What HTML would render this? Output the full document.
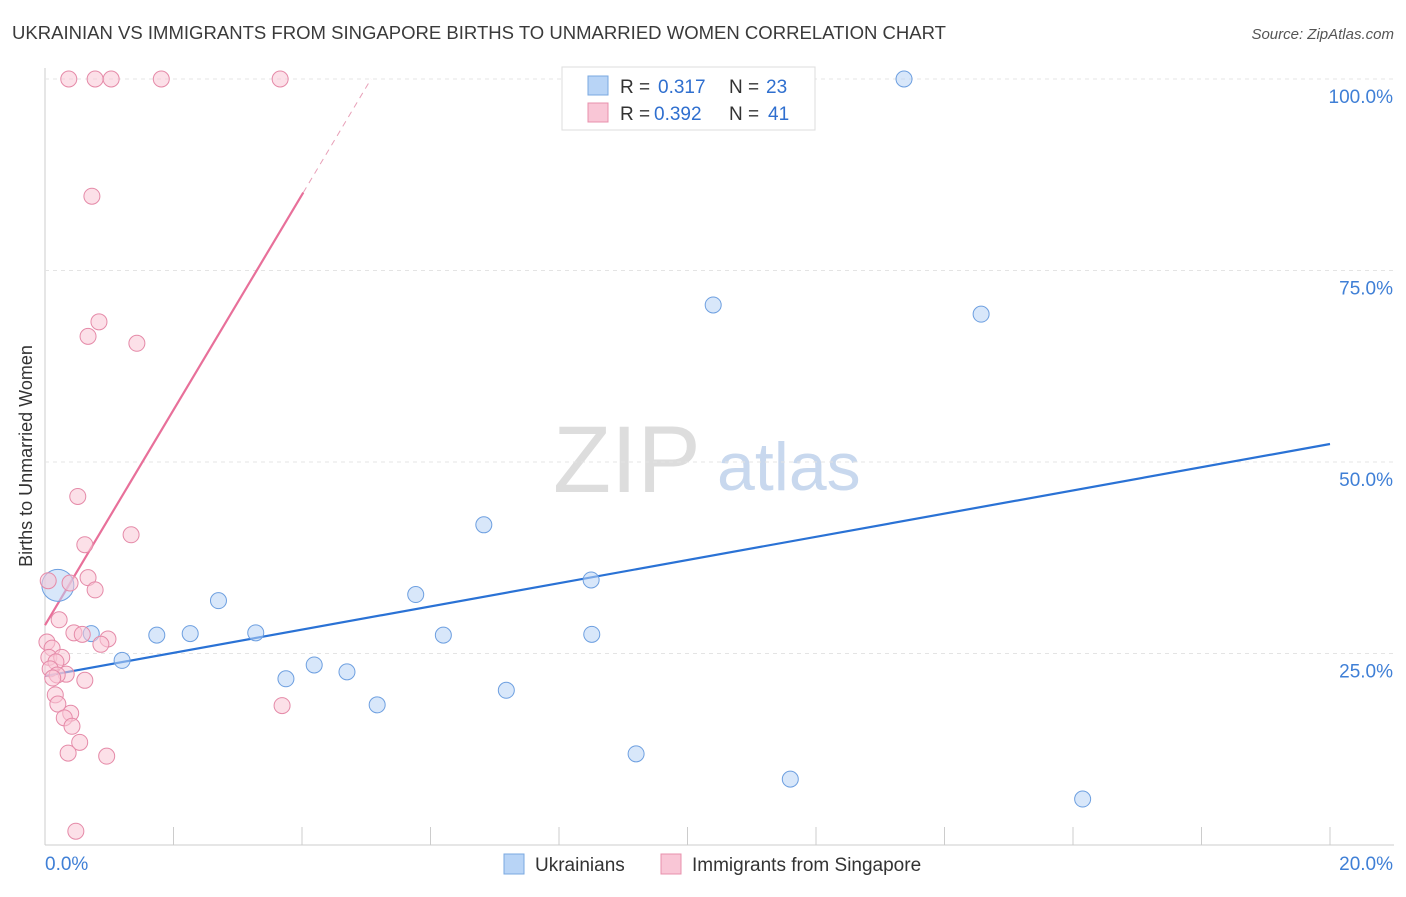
<!DOCTYPE html>
<html><head><meta charset="utf-8"><style>
body{margin:0;background:#fff;font-family:"Liberation Sans",sans-serif;}
svg text{font-family:"Liberation Sans",sans-serif;}
</style></head><body>
<svg id="chart" width="1406" height="892">
<text x="12" y="39" font-size="18" fill="#3a3a3a" textLength="934" lengthAdjust="spacingAndGlyphs">UKRAINIAN VS IMMIGRANTS FROM SINGAPORE BIRTHS TO UNMARRIED WOMEN CORRELATION CHART</text>
<text x="1394" y="39" font-size="15" fill="#555" font-style="italic" text-anchor="end">Source: ZipAtlas.com</text>
<text x="32" y="456" font-size="18" fill="#333" text-anchor="middle" transform="rotate(-90 32 456)">Births to Unmarried Women</text>
<text x="553" y="492" font-size="95" fill="#ddd" font-family="Liberation Serif">ZIP</text>
<text x="717" y="490" font-size="68" fill="#c8d8ee">atlas</text>
<g id="grid"></g><g id="lines"></g><g id="pts"></g>
<g>
<rect x="562" y="67" width="253" height="63" fill="#fff" stroke="#ddd"/>
<rect x="588" y="76" width="20" height="19" fill="#b8d4f6" stroke="#7aa8e0"/>
<rect x="588" y="103" width="20" height="19" fill="#f9c6d6" stroke="#e890ac"/>
<text x="620" y="93" font-size="19" fill="#333">R =</text><text x="658" y="93" font-size="19" fill="#2f6fcf">0.317</text>
<text x="729" y="93" font-size="19" fill="#333">N =</text><text x="766" y="93" font-size="19" fill="#2f6fcf">23</text>
<text x="620" y="120" font-size="19" fill="#333">R =</text><text x="654" y="120" font-size="19" fill="#2f6fcf">0.392</text>
<text x="729" y="120" font-size="19" fill="#333">N =</text><text x="768" y="120" font-size="19" fill="#2f6fcf">41</text>
</g>
<g>
<rect x="504" y="854" width="20" height="20" fill="#b8d4f6" stroke="#7aa8e0"/>
<text x="535" y="871" font-size="19" fill="#333">Ukrainians</text>
<rect x="661" y="854" width="20" height="20" fill="#f9c6d6" stroke="#e890ac"/>
<text x="692" y="871" font-size="19" fill="#333">Immigrants from Singapore</text>
</g>
</svg>
<script>
const yTicks=[25,50,75,100];
const yTickLabels=["25.0%","50.0%","75.0%","100.0%"];
const xTickLabels=["0.0%","20.0%"];
const blueX=[0.2,0.72,1.2,1.74,2.26,2.7,3.28,3.75,4.19,4.7,5.17,5.77,6.2,6.83,7.18,8.5,8.51,9.2,10.4,11.6,13.37,14.57,16.15];
const blueY=[33.9,27.6,24.1,27.4,27.6,31.9,27.7,21.7,23.5,22.6,18.3,32.7,27.4,41.8,20.2,34.6,27.5,11.9,70.5,8.6,100,69.3,6.0];
const pinkX=[0.37,0.78,1.03,1.81,3.66,0.73,0.84,0.67,1.43,0.51,1.34,0.62,0.05,0.39,0.67,0.78,0.22,0.45,0.58,0.98,0.87,0.03,0.11,0.06,0.26,0.17,0.08,0.33,0.62,0.16,0.2,0.4,0.3,0.42,0.54,0.36,0.96,3.69,0.48,0.19,0.12];
const pinkY=[100,100,100,100,100,84.7,68.3,66.4,65.5,45.5,40.5,39.2,34.5,34.2,34.9,33.3,29.4,27.7,27.5,26.9,26.2,26.5,25.7,24.5,24.5,23.9,23,22.3,21.5,19.6,18.4,17.2,16.6,15.5,13.4,12,11.6,18.2,1.8,22.2,21.8];
const blueTrend=[22.06,52.35];
const pinkTrend=[28.7,14.05];
const X=v=>45+v/20*1285, Y=v=>845-v/100*766;
const ns="http://www.w3.org/2000/svg";
function mk(t,a,p){const e=document.createElementNS(ns,t);for(const k in a)e.setAttribute(k,a[k]);document.getElementById(p).appendChild(e);return e;}
mk('line',{x1:45,y1:68,x2:45,y2:845,stroke:'#ccc'},'grid');
mk('line',{x1:45,y1:845,x2:1394,y2:845,stroke:'#ccc'},'grid');
for(let i=0;i<=10;i++){const x=45+i*128.5;mk('line',{x1:x,y1:827,x2:x,y2:845,stroke:'#ccc'},'grid');}
yTicks.forEach((t,i)=>{
 const g=mk('line',{x1:45,y1:Y(t),x2:1394,y2:Y(t),stroke:'#e4e4e4','stroke-dasharray':'4,4'},'grid');
 
 
 const l=mk('text',{x:1393,y:Y(t)+24,'font-size':19,fill:'#3f7fd6','text-anchor':'end'},'grid');l.textContent=yTickLabels[i];
 
 
});
xTickLabels.forEach((s,i)=>{const l=mk('text',{x:i?1393:45,y:870,'font-size':19,fill:'#3f7fd6','text-anchor':i?'end':'start'},'grid');l.textContent=s;
 
 });
function pts(xs,ys,f,s,n){xs.forEach((x,i)=>{const c=mk('circle',{cx:X(x),cy:Y(ys[i]),r:(n=='blue'&&i==0)?16:8,fill:f,'fill-opacity':0.55,stroke:s,'stroke-width':1},'pts');
 
 });}
pts(blueX,blueY,'#b8d4f6','#6d9fe0','blue');
pts(pinkX,pinkY,'#f9c6d6','#e58aa8','pink');
const bl=mk('line',{x1:X(0),y1:Y(blueTrend[0]),x2:X(20),y2:Y(blueTrend[1]),stroke:'#2a72d5','stroke-width':2.2},'lines');


const xe=4.02, xm=(100-pinkTrend[0])/pinkTrend[1];
const pl=mk('line',{x1:X(0),y1:Y(pinkTrend[0]),x2:X(xe),y2:Y(pinkTrend[0]+pinkTrend[1]*xe),stroke:'#e8709a','stroke-width':2.2},'lines');


const pd=mk('line',{x1:X(xe),y1:Y(pinkTrend[0]+pinkTrend[1]*xe),x2:X(xm),y2:Y(100),stroke:'#e8a0b8','stroke-width':1,'stroke-dasharray':'6,5'},'lines');


</script>
</body></html>
